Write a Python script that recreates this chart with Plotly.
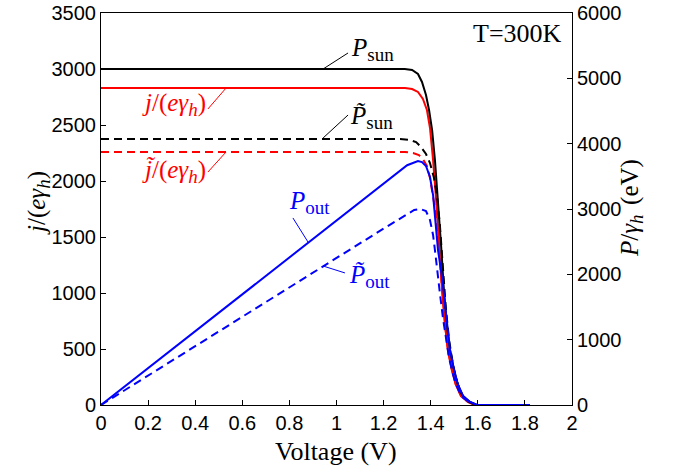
import plotly.graph_objects as go

# ---- data ----
# P_sun (eV, right axis)
v_psun = [0, 0.5, 1.0, 1.29, 1.321, 1.346, 1.363, 1.380, 1.393, 1.406, 1.418, 1.431, 1.444, 1.456, 1.469, 1.482, 1.499, 1.516, 1.537, 1.567, 1.597, 1.82]
p_sun = [5143, 5143, 5143, 5143, 5128, 5066, 4944, 4745, 4515, 4209, 3750, 3138, 2449, 1760, 1224, 842, 536, 306, 138, 46, 0, 0]

# j/(e gamma_h) (left axis)
v_j = [0, 0.5, 1.0, 1.291, 1.321, 1.346, 1.367, 1.384, 1.397, 1.410, 1.423, 1.435, 1.448, 1.461, 1.473, 1.490, 1.507, 1.529, 1.558, 1.588, 1.82]
j_val = [2830, 2830, 2830, 2830, 2821, 2795, 2732, 2634, 2473, 2188, 1830, 1429, 1027, 714, 491, 312, 179, 80, 27, 0, 0]

# P~_sun (eV, right axis)
v_psun_t = [0, 0.5, 1.0, 1.270, 1.312, 1.338, 1.359, 1.380, 1.397, 1.414, 1.427, 1.439, 1.452, 1.465, 1.478, 1.495, 1.512, 1.533, 1.563, 1.592, 1.82]
p_sun_t = [4071, 4071, 4071, 4071, 4056, 4025, 3949, 3842, 3704, 3474, 3199, 2755, 2097, 1454, 995, 612, 352, 153, 46, 0, 0]

# j~/(e gamma_h) (left axis)
v_jt = [0, 0.5, 1.0, 1.291, 1.325, 1.350, 1.367, 1.384, 1.397, 1.410, 1.423, 1.435, 1.448, 1.461, 1.473, 1.490, 1.507, 1.529, 1.558, 1.588, 1.82]
jt_val = [2259, 2259, 2259, 2259, 2250, 2232, 2196, 2134, 2027, 1866, 1696, 1402, 1027, 714, 491, 312, 179, 80, 27, 0, 0]

# P_out (eV, right axis)
v_pout = [0, 0.2, 0.4, 0.6, 0.8, 1.0, 1.2, 1.3, 1.346, 1.363, 1.380, 1.397, 1.410, 1.418, 1.431, 1.448, 1.456, 1.469, 1.482, 1.499, 1.516, 1.537, 1.567, 1.597, 1.82]
p_out = [0, 566, 1132, 1698, 2264, 2830, 3396, 3670, 3735, 3719, 3658, 3490, 3214, 2877, 2372, 1959, 1684, 1224, 842, 536, 306, 138, 46, 0, 0]

# P~_out (eV, right axis)
v_pout_t = [0, 0.2, 0.4, 0.6, 0.8, 1.0, 1.2, 1.3, 1.33, 1.355, 1.380, 1.397, 1.410, 1.418, 1.427, 1.439, 1.452, 1.465, 1.478, 1.495, 1.512, 1.533, 1.563, 1.592, 1.82]
p_out_t = [0, 452, 904, 1355, 1807, 2259, 2700, 2920, 2985, 3000, 2969, 2832, 2602, 2372, 2066, 1714, 1332, 995, 719, 459, 276, 122, 46, 0, 0]

x_ticks = [0, 0.2, 0.4, 0.6, 0.8, 1, 1.2, 1.4, 1.6, 1.8, 2]

BLACK, RED, BLUE = "#000000", "#ff0000", "#0000ff"
DASH = "8px,5px"
LW = 2

fig = go.Figure()
fig.add_trace(go.Scatter(x=v_jt, y=jt_val, mode="lines", line=dict(color=RED, width=LW, dash=DASH)))
fig.add_trace(go.Scatter(x=v_psun_t, y=p_sun_t, yaxis="y2", mode="lines", line=dict(color=BLACK, width=LW, dash=DASH)))
fig.add_trace(go.Scatter(x=v_j, y=j_val, mode="lines", line=dict(color=RED, width=LW)))
fig.add_trace(go.Scatter(x=v_psun, y=p_sun, yaxis="y2", mode="lines", line=dict(color=BLACK, width=LW)))
fig.add_trace(go.Scatter(x=v_pout_t, y=p_out_t, yaxis="y2", mode="lines", line=dict(color=BLUE, width=LW, dash=DASH)))
fig.add_trace(go.Scatter(x=v_pout, y=p_out, yaxis="y2", mode="lines", line=dict(color=BLUE, width=LW)))

tickfont = dict(family="Liberation Sans, Arial, sans-serif", size=20, color="black")
SERIF = "Liberation Serif, Times New Roman, serif"

fig.update_layout(
    width=678, height=473,
    margin=dict(l=101, r=106, t=13, b=68, autoexpand=False),
    paper_bgcolor="white", plot_bgcolor="white",
    showlegend=False,
    xaxis=dict(range=[0, 2], tickvals=x_ticks, ticks="inside", ticklen=5, tickcolor="black",
               showline=True, linecolor="black", linewidth=1, mirror=True, automargin=False,
               showgrid=False, zeroline=False, tickfont=tickfont, ticklabeloverflow="allow"),
    yaxis=dict(range=[0, 3500], dtick=500, ticks="inside", ticklen=5, tickcolor="black",
               showline=True, linecolor="black", linewidth=1, automargin=False,
               showgrid=False, zeroline=False, tickfont=tickfont, ticklabeloverflow="allow"),
    yaxis2=dict(range=[0, 6000], dtick=1000, overlaying="y", side="right", ticks="inside",
                ticklen=5, tickcolor="black", showline=True, linecolor="black", linewidth=1,
                automargin=False, showgrid=False, zeroline=False, tickfont=tickfont,
                ticklabeloverflow="allow"),
)

# leader lines
leaders = [
    (0.943, 3000, 1.049, 3143, BLACK),
    (0.454, 2643, 0.531, 2830, RED),
    (0.943, 2384, 1.049, 2589, BLACK),
    (0.454, 2080, 0.531, 2259, RED),
    (0.815, 1670, 0.879, 1455, BLUE),
    (0.943, 1241, 1.036, 1179, BLUE),
]
for x0, y0, x1, y1, c in leaders:
    fig.add_shape(type="line", xref="x", yref="y", x0=x0, y0=y0, x1=x1, y1=y1,
                  line=dict(color=c, width=1))


def sub(t):
    return "<sub><span style='font-size:19px'>" + t + "</span></sub>"


labfont = lambda c, s=25: dict(family=SERIF, size=s, color=c)
labels = [
    (1.053, 3170, "<i>P</i>" + sub("sun"), BLACK, "left"),
    (0.454, 2679, "<i>j</i>/(<i>eγ</i>" + sub("<i>h</i>") + ")", RED, "right"),
    (1.049, 2563, "<i>P̃</i>" + sub("sun"), BLACK, "left"),
    (0.454, 2089, "<i>j̃</i>/(<i>eγ</i>" + sub("<i>h</i>") + ")", RED, "right"),
    (0.981, 1804, "<i>P</i>" + sub("out"), BLUE, "right"),
    (1.045, 1150, "<i>P̃</i>" + sub("out"), BLUE, "left"),
]
for x, y, t, c, xa in labels:
    fig.add_annotation(x=x, y=y, xref="x", yref="y", text=t, showarrow=False,
                       xanchor=xa, yanchor="middle", font=labfont(c))

fig.add_annotation(x=1.965, y=3320, xref="x", yref="y", text="T=300K", showarrow=False,
                   xanchor="right", yanchor="middle", font=labfont(BLACK, 26))

# axis titles (positions in page pixels converted to plot-area fractions)
fig.add_annotation(x=(38 - 101) / 471, y=(405 - 203) / 392, xref="paper", yref="paper",
                   text="<i>j</i>/(<i>eγ</i>" + sub("<i>h</i>") + ")", textangle=-90,
                   showarrow=False, xanchor="center", yanchor="middle", font=labfont(BLACK, 25))
fig.add_annotation(x=(631 - 101) / 471, y=(405 - 208) / 392, xref="paper", yref="paper",
                   text="<i>P</i>/<i>γ</i>" + sub("<i>h</i>&nbsp;&nbsp;") + "(eV)", textangle=-90,
                   showarrow=False, xanchor="center", yanchor="middle", font=labfont(BLACK, 25))
fig.add_annotation(x=(336 - 101) / 471, y=(405 - 451) / 392, xref="paper", yref="paper",
                   text="Voltage (V)", showarrow=False, xanchor="center", yanchor="middle",
                   font=labfont(BLACK, 26))

# remove the page's default body margin so the figure sits at the window's corner
fig.write_html("out.html", config={"displayModeBar": False},
               post_script="document.body.style.margin='0';document.body.style.overflow='hidden';")
